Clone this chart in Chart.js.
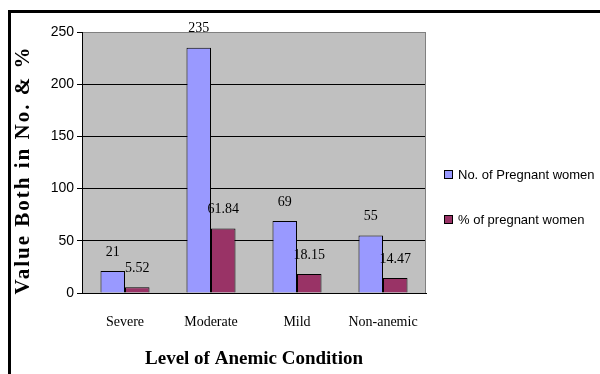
<!DOCTYPE html>
<html>
<head>
<meta charset="utf-8">
<script src="https://cdn.jsdelivr.net/npm/chart.js@4/dist/chart.umd.min.js"></script>
<style>
  html, body { margin: 0; padding: 0; background: #fff; overflow: hidden; }
  .frame {
    position: absolute; left: 8px; top: 10px; width: 620px; height: 400px;
    border-top: 3px solid #000; border-left: 3px solid #000;
  }
  #chart { position: absolute; left: 0; top: 0; }
  #legend {
    position: absolute; left: 444px; top: 166px; margin: 0; padding: 0;
    list-style: none; font: 13px 'Liberation Sans', Arial, sans-serif; color: #000;
  }
  #legend li { display: flex; align-items: center; height: 16px; margin-bottom: 29px; white-space: nowrap; }
  #legend .box { width: 7px; height: 7px; border: 1px solid #000; margin-right: 5px; }
</style>
</head>
<body>
<div class="frame"></div>
<canvas id="chart" width="600" height="374"></canvas>
<ul id="legend"></ul>
<script>
/* ------------------------------------------
   Data
   ------------------------------------------ */
const categories = ['Severe', 'Moderate', 'Mild', 'Non-anemic'];
const womenCount = [21, 235, 69, 55];
const womenPercent = [5.52, 61.84, 18.15, 14.47];
const yTicks = [0, 50, 100, 150, 200, 250];

const COLORS = {
  count: '#9999FF',
  percent: '#993366',
  plot: '#C0C0C0',
  frame: '#808080',
  text: '#000000'
};

const SERIF = "'Liberation Serif', 'Times New Roman', serif";
const SANS = "'Liberation Sans', Arial, sans-serif";

/* ------------------------------------------
   Plugins: plot background, value labels, y title
   ------------------------------------------ */
const plotBackground = {
  id: 'plotBackground',
  beforeDraw(chart) {
    const { ctx, chartArea: a } = chart;
    ctx.save();
    ctx.fillStyle = COLORS.plot;
    ctx.fillRect(a.left, a.top, a.right - a.left, a.bottom - a.top);
    ctx.restore();
  },
  afterDraw(chart) {
    const { ctx, chartArea: a } = chart;
    ctx.save();
    ctx.strokeStyle = COLORS.frame;
    ctx.lineWidth = 1;
    ctx.beginPath();
    ctx.moveTo(a.right - 0.5, a.top);
    ctx.lineTo(a.right - 0.5, a.bottom);
    ctx.stroke();
    ctx.restore();
  }
};

const valueLabels = {
  id: 'valueLabels',
  afterDatasetsDraw(chart) {
    const { ctx } = chart;
    ctx.save();
    ctx.font = '14px ' + SERIF;
    ctx.fillStyle = COLORS.text;
    ctx.textAlign = 'center';
    ctx.textBaseline = 'middle';
    chart.data.datasets.forEach((ds, i) => {
      chart.getDatasetMeta(i).data.forEach((bar, j) => {
        ctx.fillText(String(ds.data[j]), bar.x, bar.y - 19);
      });
    });
    ctx.restore();
  }
};

const yTitle = {
  id: 'yTitle',
  afterDraw(chart) {
    const { ctx } = chart;
    ctx.save();
    ctx.translate(24, 170);
    ctx.rotate(-Math.PI / 2);
    ctx.font = 'bold 21px ' + SERIF;
    ctx.letterSpacing = '2px';
    ctx.fillStyle = COLORS.text;
    ctx.textAlign = 'center';
    ctx.textBaseline = 'middle';
    ctx.fillText('Value Both in No. & %', 0, 0);
    ctx.restore();
  }
};

/* ------------------------------------------
   Chart
   ------------------------------------------ */
const chart = new Chart(document.getElementById('chart'), {
  type: 'bar',
  data: {
    labels: categories,
    datasets: [
      {
        label: 'No. of Pregnant women',
        data: womenCount,
        backgroundColor: COLORS.count,
        borderColor: '#000',
        borderWidth: 1,
        borderSkipped: 'bottom'
      },
      {
        label: '% of pregnant women',
        data: womenPercent,
        backgroundColor: COLORS.percent,
        borderColor: '#000',
        borderWidth: 1,
        borderSkipped: 'bottom'
      }
    ]
  },
  options: {
    responsive: false,
    animation: false,
    categoryPercentage: 0.57,
    barPercentage: 1,
    layout: { padding: { top: 32, left: 0, right: 174, bottom: 0 } },
    plugins: {
      tooltip: { enabled: false },
      legend: { display: false }
    },
    scales: {
      x: {
        grid: { display: false, drawTicks: false },
        border: { color: '#000', width: 1 },
        ticks: {
          color: COLORS.text,
          font: { family: SERIF, size: 14 },
          padding: 21,
          maxRotation: 0
        },
        title: {
          display: true,
          text: 'Level of Anemic Condition',
          color: COLORS.text,
          font: { family: SERIF, size: 19, weight: 'bold' },
          padding: { top: 0, bottom: 4 }
        },
        afterFit(scale) { scale.height = 81; }
      },
      y: {
        min: 0,
        max: 250,
        afterBuildTicks(scale) { scale.ticks = yTicks.map(v => ({ value: v })); },
        grid: {
          color: ctx => (ctx.tick && ctx.tick.value === 250 ? COLORS.frame : '#000'),
          tickColor: '#000',
          tickLength: 5
        },
        border: { color: '#000', width: 1 },
        ticks: {
          color: COLORS.text,
          font: { family: SANS, size: 14 },
          padding: 3
        },
        afterFit(scale) { scale.width = 82; }
      }
    }
  },
  plugins: [plotBackground, valueLabels, yTitle]
});

// HTML legend built from the chart's own legend items
const legendEl = document.getElementById('legend');
chart.options.plugins.legend.labels.generateLabels(chart).forEach(item => {
  const li = document.createElement('li');
  const box = document.createElement('span');
  box.className = 'box';
  box.style.background = item.fillStyle;
  li.appendChild(box);
  li.appendChild(document.createTextNode(item.text));
  legendEl.appendChild(li);
});
</script>
</body>
</html>
